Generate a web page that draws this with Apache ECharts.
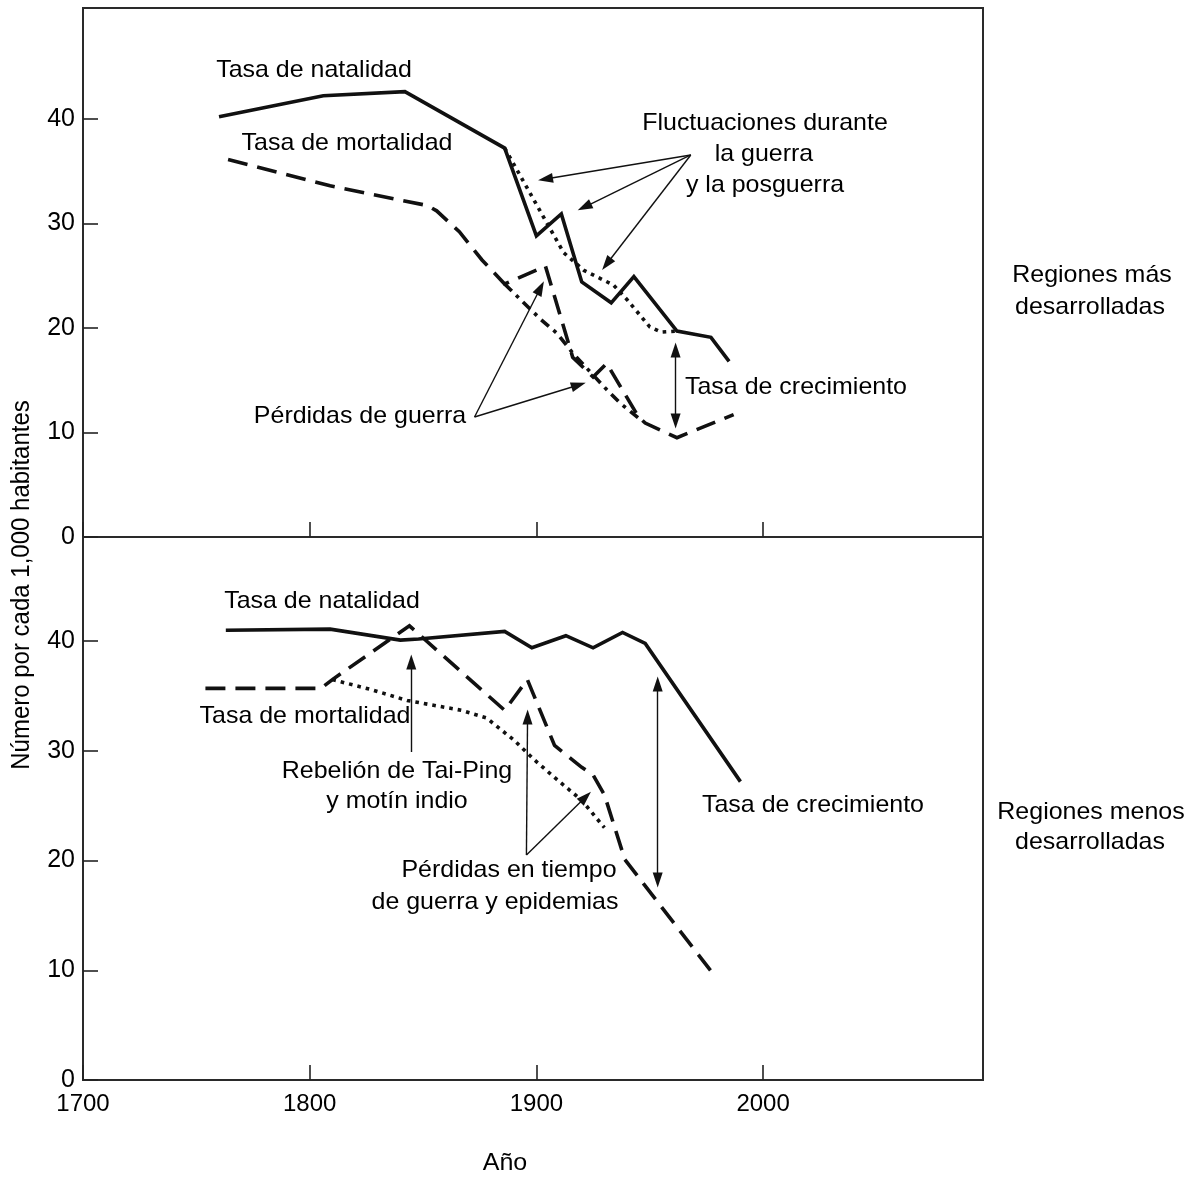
<!DOCTYPE html>
<html><head><meta charset="utf-8">
<script src="https://cdn.jsdelivr.net/npm/echarts@6/dist/echarts.min.js"></script>
<style>html,body{margin:0;padding:0;background:#fff}#c{width:1194px;height:1177px}</style>
</head><body><div id="c"></div>
<script>
// ---- Data: more developed regions (top panel) ----
const yearsBirthDev = [1760,1806,1842,1886,1900,1911,1920,1933,1943,1962,1977,1985];
const birthDev      = [40.2,42.2,42.6,37.2,28.8,30.9,24.4,22.4,24.9,19.7,19.1,16.8];
const yearsBirthDevTrend = [1886,1912,1921,1934,1940,1950,1955,1962];
const birthDevTrend      = [37.2,27.2,25.5,24.1,22.7,20.1,19.6,19.7];
const yearsDeathDev = [1764,1809,1852,1856,1866,1876,1886,1904,1916,1925,1931,1945,1948,1962,1987];
const deathDev      = [36.1,33.6,31.7,31.2,29.2,26.5,24.2,25.9,17.2,15.3,16.6,11.5,10.9,9.5,11.7];
const yearsDeathDevTrend = [1886,1902,1909,1916,1925,1931,1937,1946];
const deathDevTrend      = [24.2,20.8,19.5,17.6,15.5,14.1,12.8,11.2];

// ---- Data: less developed regions (bottom panel) ----
const yearsBirthLess = [1763,1809,1840,1848,1886,1898,1913,1925,1938,1948,1990];
const birthLess      = [41.0,41.1,40.1,40.2,40.9,39.4,40.5,39.4,40.8,39.8,27.2];
const yearsDeathLess = [1754,1805,1810,1837,1844,1886,1896,1908,1920,1925,1930,1939,1979];
const deathLess      = [35.7,35.7,36.5,40.4,41.4,33.7,36.5,30.5,28.5,27.8,26.0,20.1,9.4];
const yearsDeathLessTrend = [1810,1827,1843,1867,1878,1890,1899,1909,1920,1930];
const deathLessTrend      = [36.5,35.6,34.6,33.7,33.0,31.0,29.2,27.4,25.5,23.0];

// ---- Axis ticks ----
const xTicks = [1700,1800,1900,2000];
const yTicks = [0,10,20,30,40];

// ---- Annotation arrows (data units: [year, value]) ----
const arrowsTop = [
  {from:[1968.1,36.54], to:[1904.0,34.24]},
  {from:[1968.1,36.54], to:[1921.2,31.56]},
  {from:[1968.1,36.54], to:[1931.0,26.11]},
  {from:[1872.7,11.48], to:[1901.8,23.82]},
  {from:[1872.7,11.48], to:[1918.6,14.54]},
  {from:[1961.4,17.89], to:[1961.4,11.10], both:true}
];
const arrowsBottom = [
  {from:[1844.8,29.9], to:[1844.8,38.1]},
  {from:[1895.6,20.51], to:[1896.1,33.09]},
  {from:[1895.6,20.51], to:[1921.7,25.8]},
  {from:[1953.5,36.1], to:[1953.5,18.23], both:true}
];

const FONT = '"Liberation Sans", Arimo, Arial, Helvetica, sans-serif';
const INK = '#111';
const TXT = '#000';
const pairs = (xs, ys) => xs.map((x, i) => [x, ys[i]]);

function arrowData(list){
  return list.map(a => [
    {coord:a.from, symbol:a.both ? 'triangle' : 'none', symbolSize:[10,15]},
    {coord:a.to, symbol:'triangle', symbolSize:[10,15]}
  ]);
}
function markArrows(list){
  return {
    silent:true, animation:false,
    symbol:['none','triangle'],
    lineStyle:{color:INK, width:1.4, type:'solid'},
    itemStyle:{color:INK},
    label:{show:false},
    emphasis:{disabled:true},
    data:arrowData(list)
  };
}
function lineSeries(idx, xs, ys, dash, extra){
  const s = {
    type:'line', xAxisIndex:idx, yAxisIndex:idx,
    data:pairs(xs, ys), symbol:'none', showSymbol:false, animation:false,
    silent:true,
    lineStyle:{color:INK, width:3.6, type:dash, join:'miter', cap:'butt'},
    emphasis:{disabled:true}
  };
  return Object.assign(s, extra || {});
}
function xAxis(idx, showLabel){
  return {
    type:'value', gridIndex:idx, min:1700, max:2097,
    axisLine:{show:false},
    axisTick:{show:true, inside:true, length:15, customValues:xTicks, lineStyle:{color:'#222', width:1.6}},
    axisLabel:{show:showLabel, customValues:xTicks, formatter:v => String(v), fontSize:24, fontFamily:FONT, color:TXT, margin:12},
    splitLine:{show:false}
  };
}
function yAxis(idx, max){
  return {
    type:'value', gridIndex:idx, min:0, max:max,
    axisLine:{show:false},
    axisTick:{show:true, inside:true, length:15, customValues:yTicks, lineStyle:{color:'#222', width:1.6}},
    axisLabel:{show:true, customValues:yTicks, formatter:v => String(v), fontSize:25, fontFamily:FONT, color:TXT, margin:8},
    splitLine:{show:false}
  };
}
function txt(x, y, text, align, rot){
  return {type:'text', x:x, y:y, rotation:rot || 0, scaleX:rot ? 1 : 1.04, scaleY:rot ? 1.04 : 1, silent:true,
    style:{text:text, fill:TXT, font:'24px ' + FONT, fontSize:24, fontFamily:FONT,
      align:align || 'center', textAlign:align || 'center', verticalAlign:'middle', textVerticalAlign:'middle'}};
}

const chart = echarts.init(document.getElementById('c'), null, {renderer:'canvas'});
chart.setOption({
  backgroundColor:'#fff',
  animation:false,
  grid:[
    {left:83, right:211, top:8, height:529, show:true, borderColor:'#2a2a2a', borderWidth:2, backgroundColor:'transparent'},
    {left:83, right:211, top:537, height:543, show:true, borderColor:'#2a2a2a', borderWidth:2, backgroundColor:'transparent'}
  ],
  xAxis:[xAxis(0,false), xAxis(1,true)],
  yAxis:[yAxis(0,50.6), yAxis(1,49.5)],
  series:[
    lineSeries(0, yearsBirthDev, birthDev, 'solid', {markLine:markArrows(arrowsTop)}),
    lineSeries(0, yearsBirthDevTrend, birthDevTrend, [3.6,5]),
    lineSeries(0, yearsDeathDev, deathDev, [20,10]),
    lineSeries(0, yearsDeathDevTrend, deathDevTrend, [10,6,3.6,6]),
    lineSeries(1, yearsBirthLess, birthLess, 'solid', {markLine:markArrows(arrowsBottom)}),
    lineSeries(1, yearsDeathLess, deathLess, [20,10]),
    lineSeries(1, yearsDeathLessTrend, deathLessTrend, [3.6,5])
  ],
  graphic:[
    txt(314, 70, 'Tasa de natalidad'),
    txt(347, 143, 'Tasa de mortalidad'),
    txt(765, 123, 'Fluctuaciones durante'),
    txt(764, 154, 'la guerra'),
    txt(765, 185, 'y la posguerra'),
    txt(685, 387, 'Tasa de crecimiento', 'left'),
    txt(360, 416, 'Pérdidas de guerra'),
    txt(1092, 275, 'Regiones más'),
    txt(1090, 307, 'desarrolladas'),
    txt(322, 601, 'Tasa de natalidad'),
    txt(305, 716, 'Tasa de mortalidad'),
    txt(397, 771, 'Rebelión de Tai-Ping'),
    txt(397, 801, 'y motín indio'),
    txt(509, 870, 'Pérdidas en tiempo'),
    txt(495, 902, 'de guerra y epidemias'),
    txt(702, 805, 'Tasa de crecimiento', 'left'),
    txt(1091, 812, 'Regiones menos'),
    txt(1090, 842, 'desarrolladas'),
    txt(505, 1163, 'Año'),
    txt(22, 585, 'Número por cada 1,000 habitantes', 'center', Math.PI/2)
  ]
});
</script></body></html>
